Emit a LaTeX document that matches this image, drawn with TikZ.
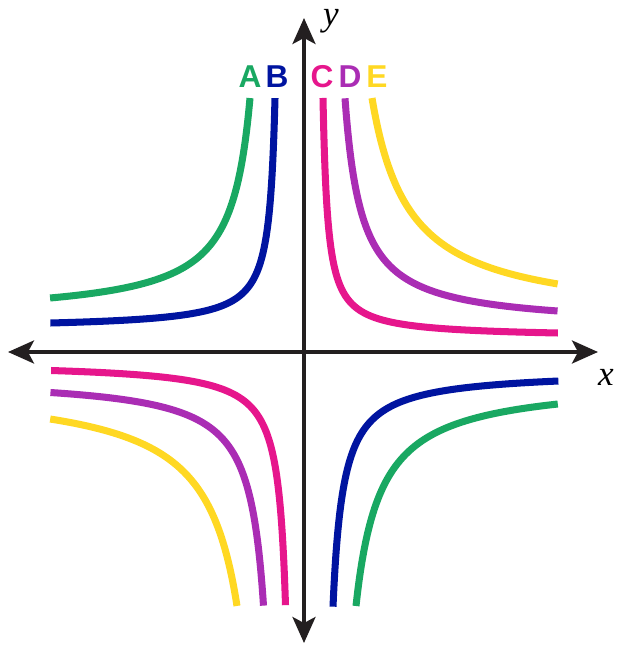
\documentclass[tikz,border=0pt]{standalone}
\usepackage{fontspec}
\setmainfont{Liberation Serif}
\setsansfont{Liberation Sans}
\usepackage{xcolor}
\usetikzlibrary{arrows.meta}
\definecolor{axisGray}{HTML}{231F20}
\definecolor{curveA}{HTML}{19A862}
\definecolor{curveB}{HTML}{0014A0}
\definecolor{curveC}{HTML}{E6168C}
\definecolor{curveD}{HTML}{AA2DB4}
\definecolor{curveE}{HTML}{FFD823}

% one branch: colour, x sign, y sign, asymptote shift, corner, foot
\newcommand\hypbranch[6]{%
  \pgfmathsetmacro\hs{#5-#4}%
  \pgfmathsetmacro\hT{ln(\hs/(#6-#4))}%
  \draw[crv,#1] plot[domain=-\hT:\hT,samples=90,variable=\t]
    ({#2*(#4+\hs*exp(\t))},{#3*(#4+\hs*exp(-\t))});
}

\begin{document}
\begin{tikzpicture}[
  x=0.02cm,y=0.02cm,
  axis/.style={line width=2pt,axisGray,
    {Stealth[length=0.52cm,width=0.46cm,inset=0.12cm]}-{Stealth[length=0.52cm,width=0.46cm,inset=0.12cm]}},
  crv/.style={line width=4pt},
  lbl/.style={font=\sffamily\bfseries\fontsize{18}{20}\selectfont,inner sep=0pt},
  axlbl/.style={font=\itshape\fontsize{20}{24}\selectfont,inner sep=0pt}
]
  \useasboundingbox (-304,-297) rectangle (317,352);

  % --- axes ---
  \coordinate (xmin) at (-296,0);
  \coordinate (xmax) at (294,0);
  \coordinate (ymin) at (0,-291);
  \coordinate (ymax) at (0,334);
  \draw[axis] (xmin) -- (xmax);
  \draw[axis] (ymin) -- (ymax);
  \node[axlbl] (xl) at (302,-25) {x};
  \node[axlbl] (yl) at (27,331) {y};

  % --- quadrant I ---
  \hypbranch{curveC}{1}{1}{14.25}{48}{19}
  \hypbranch{curveD}{1}{1}{24.5}{86}{41}
  \hypbranch{curveE}{1}{1}{30.6}{122}{68}

  % --- quadrant II ---
  \hypbranch{curveB}{-1}{1}{23.1}{60}{29}
  \hypbranch{curveA}{-1}{1}{34.4}{100}{54}

  % --- quadrant III ---
  \hypbranch{curveC}{-1}{-1}{10.8}{54}{18.5}
  \hypbranch{curveD}{-1}{-1}{25.5}{84}{40.5}
  \hypbranch{curveE}{-1}{-1}{32.3}{120}{67}

  % --- quadrant IV ---
  \hypbranch{curveB}{1}{-1}{18.7}{68}{29}
  \hypbranch{curveA}{1}{-1}{27.5}{102}{52}

  % labels
  \node[lbl,curveA] (lA) at (-54,275) {A};
  \node[lbl,curveB] (lB) at (-27,275) {B};
  \node[lbl,curveC] (lC) at (18,275) {C};
  \node[lbl,curveD] (lD) at (46,275) {D};
  \node[lbl,curveE] (lE) at (73,275) {E};
\end{tikzpicture}
\end{document}
